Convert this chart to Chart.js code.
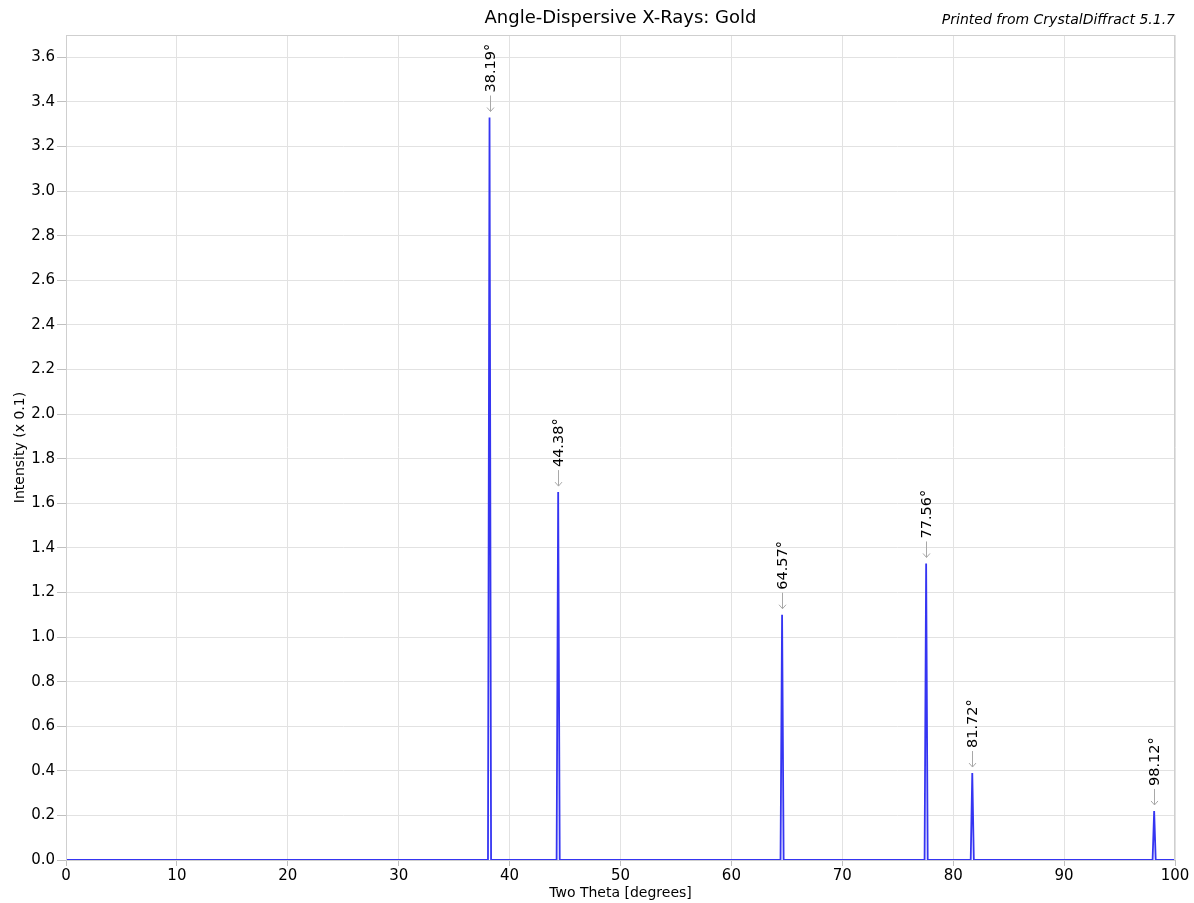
<!DOCTYPE html>
<html>
<head>
<meta charset="utf-8">
<script src="https://cdn.jsdelivr.net/npm/chart.js@4/dist/chart.umd.min.js"></script>
<style>
  html, body { margin: 0; padding: 0; background: #fff; }
  #wrap { width: 1194px; height: 903px; position: relative; }
</style>
</head>
<body>
<div id="wrap"><canvas id="myChart"></canvas></div>
<script>
// peak positions (two theta, degrees) and heights (intensity x 0.1)
var peakPos = [38.19, 44.38, 64.57, 77.56, 81.72, 98.12];
var peakHeight = [3.33, 1.65, 1.10, 1.33, 0.39, 0.22];
var peakLabels = ['38.19°', '44.38°', '64.57°', '77.56°', '81.72°', '98.12°'];
var xTicks = [0, 10, 20, 30, 40, 50, 60, 70, 80, 90, 100];
var yTicks = [0, 0.2, 0.4, 0.6, 0.8, 1.0, 1.2, 1.4, 1.6, 1.8, 2.0, 2.2, 2.4, 2.6, 2.8, 3.0, 3.2, 3.4, 3.6];
var halfWidth = 0.14;

var FONT = '"DejaVu Sans", "Liberation Sans", sans-serif';

// profile: flat baseline with narrow peaks
var profile = [{x: 0, y: 0}];
peakPos.forEach(function (p, i) {
  profile.push({x: p - halfWidth, y: 0});
  profile.push({x: p, y: peakHeight[i]});
  profile.push({x: p + halfWidth, y: 0});
});
profile.push({x: 100, y: 0});

var textPlugin = {
  id: 'texts',
  afterDraw: function (chart) {
    var ctx = chart.ctx;
    var a = chart.chartArea;
    var xs = chart.scales.x, ys = chart.scales.y;
    ctx.save();
    // plot border
    ctx.strokeStyle = '#cfcfcf';
    ctx.lineWidth = 1;
    ctx.strokeRect(a.left + 0.5, a.top + 0.5, a.right - a.left - 1, a.bottom - a.top);

    ctx.fillStyle = '#000';
    ctx.textBaseline = 'middle';
    ctx.textAlign = 'center';
    ctx.font = '18px ' + FONT;
    ctx.fillText('Angle-Dispersive X-Rays: Gold', (a.left + a.right) / 2, 18);

    ctx.textAlign = 'right';
    ctx.font = 'italic 14px ' + FONT;
    ctx.fillText('Printed from CrystalDiffract 5.1.7', a.right, 20);

    ctx.textAlign = 'center';
    ctx.font = '14px ' + FONT;
    ctx.fillText('Two Theta [degrees]', (a.left + a.right) / 2, 893);

    ctx.save();
    ctx.translate(20, (a.top + a.bottom) / 2);
    ctx.rotate(-Math.PI / 2);
    ctx.fillText('Intensity (x 0.1)', 0, 0);
    ctx.restore();

    // peak annotations
    peakPos.forEach(function (p, i) {
      var px = Math.round(xs.getPixelForValue(p)) + 0.5;
      var py = ys.getPixelForValue(peakHeight[i]);
      ctx.strokeStyle = '#a8a8a8';
      ctx.lineWidth = 1;
      ctx.beginPath();
      ctx.moveTo(px, py - 22);
      ctx.lineTo(px, py - 6);
      ctx.moveTo(px - 3.5, py - 10);
      ctx.lineTo(px, py - 6);
      ctx.lineTo(px + 3.5, py - 10);
      ctx.stroke();

      ctx.save();
      ctx.translate(px + 1, py - 25);
      ctx.rotate(-Math.PI / 2);
      ctx.fillStyle = '#000';
      ctx.font = '14.5px ' + FONT;
      ctx.textAlign = 'left';
      ctx.textBaseline = 'middle';
      ctx.fillText(peakLabels[i], 0, 0);
      ctx.restore();
    });
    ctx.restore();
  }
};

var ctx = document.getElementById('myChart').getContext('2d');
var config = {
  type: 'scatter',
  data: {
    datasets: [{
      data: profile,
      showLine: true,
      borderColor: '#3535f2',
      borderWidth: 1.8,
      pointRadius: 0,
      fill: false,
      tension: 0
    }]
  },
  options: {
    responsive: true,
    maintainAspectRatio: false,
    animation: false,
    layout: { padding: { top: 35, right: 19, left: 0, bottom: 0 } },
    plugins: {
      legend: { display: false },
      tooltip: { enabled: false }
    },
    scales: {
      x: {
        type: 'linear',
        min: 0,
        max: 100,
        afterBuildTicks: function (s) { s.ticks = xTicks.map(function (v) { return {value: v}; }); },
        afterFit: function (s) { s.height = 43; },
        grid: { color: '#e2e2e2', tickColor: '#c0c0c0', tickLength: 6 },
        border: { display: false },
        ticks: {
          color: '#000',
          font: { family: FONT, size: 15 },
          padding: 1,
          maxRotation: 0,
          callback: function (v) { return v; }
        }
      },
      y: {
        type: 'linear',
        min: 0,
        max: 3.7,
        afterBuildTicks: function (s) { s.ticks = yTicks.map(function (v) { return {value: v}; }); },
        afterFit: function (s) { s.width = 66; },
        grid: { color: '#e2e2e2', tickColor: '#c0c0c0', tickLength: 9 },
        border: { display: false },
        ticks: {
          color: '#000',
          font: { family: FONT, size: 15 },
          padding: 2,
          callback: function (v) { return Number(v).toFixed(1); }
        }
      }
    }
  },
  plugins: [textPlugin]
};

var chart = new Chart(ctx, config);
</script>
</body>
</html>
